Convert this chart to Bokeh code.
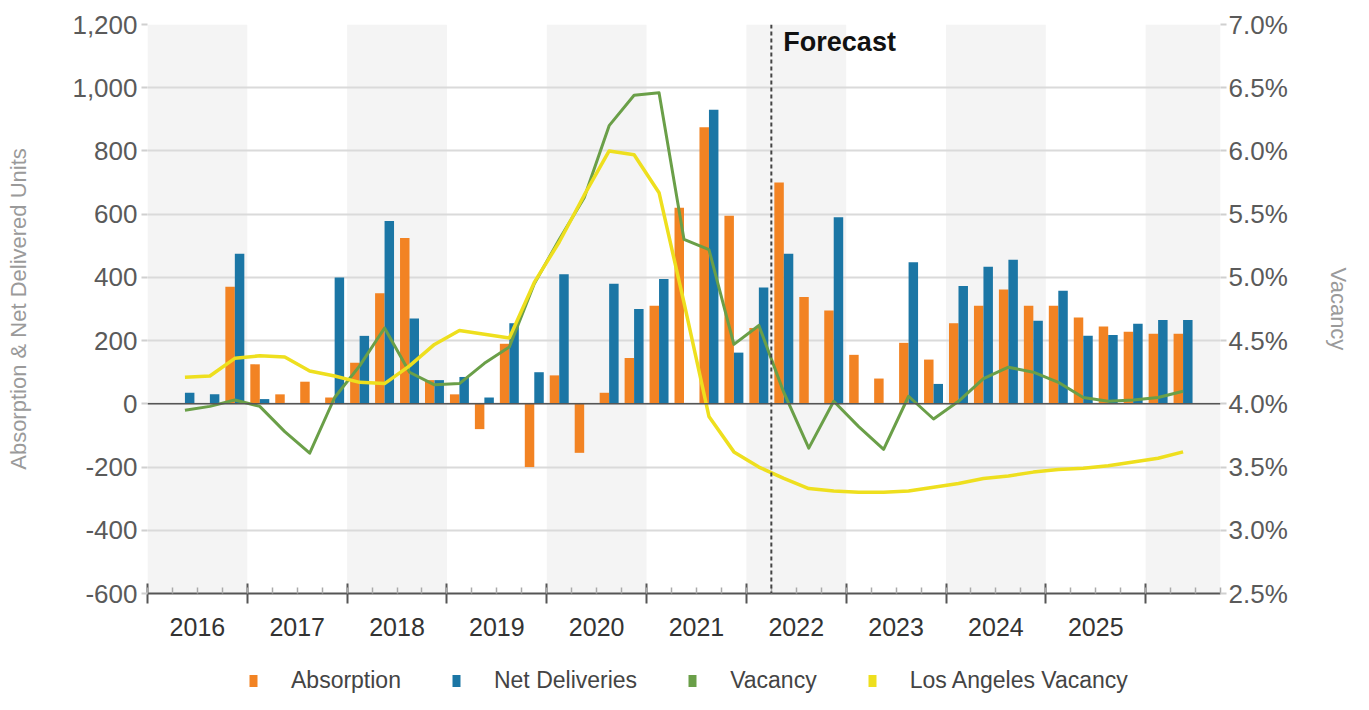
import math
from bokeh.plotting import figure
from bokeh.layouts import column
from bokeh.models import (ColumnDataSource, Range1d, LinearAxis, FixedTicker, Grid,
                          NumeralTickFormatter, PrintfTickFormatter, BoxAnnotation,
                          Span, Label, Legend, LegendItem, CustomJSTickFormatter)
from bokeh.transform import dodge
from bokeh.embed import file_html
from bokeh.resources import INLINE

# ---------------- data ----------------
quarters = [
    "2016 Q2", "2016 Q3", "2016 Q4",
    "2017 Q1", "2017 Q2", "2017 Q3", "2017 Q4",
    "2018 Q1", "2018 Q2", "2018 Q3", "2018 Q4",
    "2019 Q1", "2019 Q2", "2019 Q3", "2019 Q4",
    "2020 Q1", "2020 Q2", "2020 Q3", "2020 Q4",
    "2021 Q1", "2021 Q2", "2021 Q3", "2021 Q4",
    "2022 Q1", "2022 Q2", "2022 Q3", "2022 Q4",
    "2023 Q1", "2023 Q2", "2023 Q3", "2023 Q4",
    "2024 Q1", "2024 Q2", "2024 Q3", "2024 Q4",
    "2025 Q1", "2025 Q2", "2025 Q3", "2025 Q4",
    "2026 Q1", "2026 Q2",
]
absorption = [
    0, 0, 370,
    125, 30, 70, 20,
    130, 350, 525, 75,
    30, -80, 190, -200,
    90, -155, 35, 145,
    310, 620, 875, 595,
    240, 700, 338, 295,
    155, 80, 193, 140,
    255, 310, 362, 310,
    310, 273, 245, 228,
    222, 222,
]
net_deliveries = [
    35, 30, 475,
    15, 0, 0, 400,
    215, 578, 270, 75,
    85, 20, 255, 100,
    410, 0, 380, 300,
    395, 0, 930, 162,
    368, 475, 0, 590,
    0, 0, 448, 63,
    373, 434, 456, 263,
    358, 215, 218, 253,
    265, 265,
]
vacancy = [
    3.95, 3.98, 4.03,
    3.98, 3.78, 3.61, 4.05,
    4.30, 4.60, 4.25, 4.15,
    4.16, 4.32, 4.45, 4.95,
    5.30, 5.63, 6.20, 6.44,
    6.46, 5.30, 5.22, 4.47,
    4.62, 4.09, 3.65, 4.02,
    3.82, 3.64, 4.06, 3.88,
    4.02, 4.20, 4.29, 4.25,
    4.17, 4.05, 4.02, 4.03,
    4.05, 4.10,
]
la_vacancy = [
    4.21, 4.22, 4.36,
    4.38, 4.37, 4.26, 4.22,
    4.17, 4.16, 4.30, 4.47,
    4.58, 4.55, 4.52, 4.96,
    5.28, 5.65, 6.00, 5.97,
    5.67, 4.80, 3.90, 3.62,
    3.50, 3.41, 3.33, 3.31,
    3.30, 3.30, 3.31, 3.34,
    3.37, 3.41, 3.43, 3.46,
    3.48, 3.49, 3.51, 3.54,
    3.57, 3.62,
]
years = ["2016", "2017", "2018", "2019", "2020", "2021", "2022", "2023", "2024", "2025"]
units_ticks = [-600, -400, -200, 0, 200, 400, 600, 800, 1000, 1200]
vacancy_ticks = [2.5, 3.0, 3.5, 4.0, 4.5, 5.0, 5.5, 6.0, 6.5, 7.0]
forecast_start = "2022 Q2"
series_names = ["Absorption", "Net Deliveries", "Vacancy", "Los Angeles Vacancy"]

# ---------------- styling ----------------
FONT = "Liberation Sans"
C_ABS = "#F28323"
C_NET = "#1B76A5"
C_VAC = "#6A9F48"
C_LA = "#EEDF1E"
W = 1353
MAIN_H = 656
LEG_H = 38

first_year = int(years[0])


def qpos(label):
    y, q = label.split(" Q")
    return (int(y) - first_year) * 4 + (int(q) - 1)


x = [qpos(q) + 0.5 for q in quarters]
n_quarters = qpos(quarters[-1]) + 2

src = ColumnDataSource(dict(x=x, absorption=absorption, net=net_deliveries,
                            vacancy=vacancy, la=la_vacancy))

p = figure(width=W, height=MAIN_H, output_backend="svg", toolbar_location=None,
           x_axis_type=None, y_axis_type=None,
           x_range=Range1d(0, n_quarters), y_range=Range1d(units_ticks[0], units_ticks[-1]),
           min_border_left=147, min_border_right=131, min_border_top=24,
           min_border_bottom=MAIN_H - 593)
p.outline_line_color = None
p.background_fill_color = "white"
p.border_fill_color = "white"
p.extra_y_ranges = {"vac": Range1d(vacancy_ticks[0], vacancy_ticks[-1])}

# alternating year bands
for i in range(len(years) + 1):
    if i % 2 == 0:
        p.add_layout(BoxAnnotation(left=i * 4, right=min((i + 1) * 4, n_quarters),
                                   fill_color="#f4f4f4", fill_alpha=1.0,
                                   line_color=None, level="underlay"))

# left axis
yaxis = LinearAxis(ticker=FixedTicker(ticks=units_ticks),
                   formatter=NumeralTickFormatter(format="0,0"),
                   axis_label="Absorption & Net Delivered Units")
yaxis.axis_line_color = None
yaxis.major_tick_in = 0
yaxis.major_tick_out = 6
yaxis.major_tick_line_color = "#d0d0d0"
yaxis.major_tick_line_width = 2
yaxis.minor_tick_line_color = None
yaxis.major_label_standoff = 4
yaxis.major_label_text_font = FONT
yaxis.major_label_text_font_size = "26px"
yaxis.major_label_text_color = "#5a5a5a"
yaxis.axis_label_text_font = FONT
yaxis.axis_label_text_font_size = "22px"
yaxis.axis_label_text_font_style = "normal"
yaxis.axis_label_text_color = "#9a9a9a"
yaxis.axis_label_standoff = 38
p.add_layout(yaxis, "left")

# right axis
raxis = LinearAxis(y_range_name="vac", ticker=FixedTicker(ticks=vacancy_ticks),
                   formatter=PrintfTickFormatter(format="%.1f%%"),
                   axis_label="Vacancy")
raxis.axis_line_color = None
raxis.major_tick_in = 0
raxis.major_tick_out = 6
raxis.major_tick_line_color = "#d0d0d0"
raxis.major_tick_line_width = 2
raxis.minor_tick_line_color = None
raxis.major_label_standoff = 2
raxis.major_label_text_font = FONT
raxis.major_label_text_font_size = "26px"
raxis.major_label_text_color = "#5a5a5a"
raxis.axis_label_text_font = FONT
raxis.axis_label_text_font_size = "22px"
raxis.axis_label_text_font_style = "normal"
raxis.axis_label_text_color = "#9a9a9a"
raxis.axis_label_standoff = 35
p.add_layout(raxis, "right")

# gridlines
p.add_layout(Grid(dimension=1, ticker=FixedTicker(ticks=units_ticks),
                  grid_line_color="#dadada", grid_line_width=2))

# bottom tick axis (year boundaries + quarter minor ticks)
year_bounds = [i * 4 for i in range(len(years) + 1)]
tick_axis = LinearAxis(ticker=FixedTicker(ticks=year_bounds,
                                          minor_ticks=list(range(0, n_quarters + 1))),
                       formatter=CustomJSTickFormatter(code="return ''"))
tick_axis.axis_line_color = "#555555"
tick_axis.axis_line_width = 2
tick_axis.major_tick_in = 10
tick_axis.major_tick_out = 10
tick_axis.major_tick_line_color = "#555555"
tick_axis.major_tick_line_width = 2
tick_axis.minor_tick_in = 6
tick_axis.minor_tick_out = 0
tick_axis.minor_tick_line_color = "#aaaaaa"
tick_axis.minor_tick_line_width = 1.5
tick_axis.major_label_text_font_size = "0px"
tick_axis.major_label_standoff = 0
p.add_layout(tick_axis, "below")

# bottom label axis (year names centred in each year)
year_centers = [i * 4 + 2 for i in range(len(years))]
label_axis = LinearAxis(ticker=FixedTicker(ticks=year_centers),
                        formatter=CustomJSTickFormatter(args=dict(years=years),
                                                        code="return years[Math.floor(tick / 4)];"))
label_axis.axis_line_color = None
label_axis.major_tick_in = 0
label_axis.major_tick_out = 0
label_axis.major_tick_line_color = None
label_axis.minor_tick_line_color = None
label_axis.major_label_standoff = 14
label_axis.major_label_text_font = FONT
label_axis.major_label_text_font_size = "25px"
label_axis.major_label_text_color = "#333333"
p.add_layout(label_axis, "below")

# bars
r_abs = p.vbar(x=dodge("x", -0.19, range=p.x_range), top="absorption", width=0.38,
               source=src, fill_color=C_ABS, line_color=None)
r_net = p.vbar(x=dodge("x", 0.19, range=p.x_range), top="net", width=0.38,
               source=src, fill_color=C_NET, line_color=None)

# zero line
p.add_layout(Span(location=0, dimension="width", line_color="#555555", line_width=1.5))

# lines
r_vac = p.line("x", "vacancy", source=src, y_range_name="vac", line_color=C_VAC,
               line_width=3, line_join="round")
r_la = p.line("x", "la", source=src, y_range_name="vac", line_color=C_LA,
              line_width=3.5, line_join="round")

# forecast marker
fx = qpos(forecast_start)
p.add_layout(Span(location=fx, dimension="height", line_color="#444444",
                  line_width=2, line_dash="4 3"))
p.add_layout(Label(x=fx, y=units_ticks[-1], text="Forecast", x_offset=12, y_offset=-2,
                   text_baseline="top", text_font=FONT, text_font_size="27px",
                   text_font_style="bold", text_color="#111111"))

# ---------------- legend strip (separate small figure) ----------------
lf = figure(width=W, height=LEG_H, output_backend="svg", toolbar_location=None,
            x_axis_type=None, y_axis_type=None, x_range=Range1d(0, 1), y_range=Range1d(0, 1),
            min_border=0)
lf.outline_line_color = None
lf.grid.visible = False
lf.border_fill_color = "white"
lf.background_fill_color = "white"

nan = float("nan")
proxy = ColumnDataSource(dict(x=[nan], top=[nan]))
swatches = [lf.vbar(x="x", top="top", width=0.1, source=proxy, fill_color=c, line_color=None)
            for c in (C_ABS, C_NET, C_VAC, C_LA)]

legend = Legend(items=[LegendItem(label=name, renderers=[r])
                       for name, r in zip(series_names, swatches)],
                orientation="horizontal", location=(101, 0))
legend.glyph_width = 10
legend.glyph_height = 15
legend.label_standoff = 33
legend.spacing = 50
legend.padding = 0
legend.margin = 0
legend.border_line_color = None
legend.background_fill_alpha = 0
legend.label_text_font = FONT
legend.label_text_font_size = "23px"
legend.label_text_color = "#444444"
lf.add_layout(legend, "center")

layout = column(p, lf, spacing=0)
open("out.html", "w").write(file_html(layout, INLINE))
